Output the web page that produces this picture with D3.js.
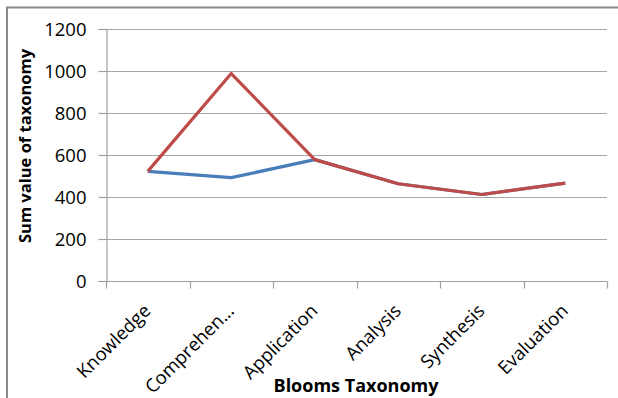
<!DOCTYPE html>
<html>
<head>
<meta charset="utf-8">
<script src="https://cdn.jsdelivr.net/npm/d3@7/dist/d3.min.js"></script>
<style>
  html, body { margin: 0; padding: 0; background: #fff; }
  svg { display: block; }
  text { font-family: "Open Sans", "Noto Sans", sans-serif; fill: #000; }
</style>
</head>
<body>
<svg id="chart" width="618" height="398"></svg>
<script>
// Bloom's taxonomy levels and the two summed series
const categories = ["Knowledge", "Comprehen...", "Application", "Analysis", "Synthesis", "Evaluation"];
const seriesBlue = [522, 492, 578, 463, 412, 466];
const seriesRed  = [522, 988, 578, 463, 412, 466];
const yTicks = [0, 200, 400, 600, 800, 1000, 1200];

const svg = d3.select("#chart");
const W = 618, H = 398;
const plot = { left: 106, right: 607, top: 29, bottom: 281 };
const labelSize = 18.5;

// Outer chart frame
svg.append("rect")
  .attr("x", 7).attr("y", 7.5)
  .attr("width", W + 10).attr("height", H + 10)
  .attr("fill", "none").attr("stroke", "#8a8a8a").attr("stroke-width", 2);

const x = d3.scaleBand().domain(categories).range([plot.left, plot.right]).padding(0);
const y = d3.scaleLinear().domain([0, 1200]).range([plot.bottom, plot.top]);

// Horizontal gridlines
svg.append("g")
  .selectAll("line")
  .data(yTicks.filter(d => d > 0))
  .join("line")
  .attr("x1", plot.left).attr("x2", plot.right)
  .attr("y1", d => Math.round(y(d)) + 0.5).attr("y2", d => Math.round(y(d)) + 0.5)
  .attr("stroke", "#a6a6a6").attr("stroke-width", 1.2);

// Y axis
const yAxis = svg.append("g")
  .attr("transform", `translate(${plot.left + 0.5},0)`)
  .call(d3.axisLeft(y).tickValues(yTicks).tickSize(8).tickPadding(12).tickFormat(d3.format("d")));
yAxis.select(".domain").attr("stroke", "#a0a0a0").attr("stroke-width", 1.2);
yAxis.selectAll(".tick line").attr("stroke", "#a0a0a0").attr("stroke-width", 1.2);
yAxis.selectAll(".tick text")
  .attr("font-size", labelSize).attr("font-family", "Open Sans, sans-serif").attr("fill", "#000").attr("dy", "0.35em");

// X axis with ticks on category boundaries
const xAxisG = svg.append("g").attr("transform", `translate(0,${plot.bottom + 0.5})`);
xAxisG.append("line")
  .attr("x1", plot.left).attr("x2", plot.right)
  .attr("stroke", "#a0a0a0").attr("stroke-width", 1.2);
const boundaries = categories.map(c => x(c)).concat([plot.right]);
xAxisG.selectAll("line.tk")
  .data(boundaries)
  .join("line").attr("class", "tk")
  .attr("x1", d => Math.round(d) + 0.5).attr("x2", d => Math.round(d) + 0.5)
  .attr("y1", 0).attr("y2", 7)
  .attr("stroke", "#a0a0a0").attr("stroke-width", 1.2);

// Rotated category labels
svg.append("g")
  .selectAll("text")
  .data(categories)
  .join("text")
  .attr("transform", d => `translate(${x(d) + x.bandwidth() / 2 + 4},${plot.bottom + 31}) rotate(-45)`)
  .attr("text-anchor", "end")
  .attr("font-size", labelSize)
  .text(d => d);

// Series lines
const line = d3.line()
  .x((d, i) => x(categories[i]) + x.bandwidth() / 2)
  .y(d => y(d));

svg.append("path")
  .datum(seriesBlue)
  .attr("d", line)
  .attr("fill", "none").attr("stroke", "#4a7ebb").attr("stroke-width", 3.2)
  .attr("stroke-linejoin", "round");

svg.append("path")
  .datum(seriesRed)
  .attr("d", line)
  .attr("fill", "none").attr("stroke", "#be4b48").attr("stroke-width", 3.2)
  .attr("stroke-linejoin", "round");

// Axis titles
svg.append("text")
  .attr("transform", "translate(31,146) rotate(-90)")
  .attr("text-anchor", "middle")
  .attr("font-weight", "bold").attr("font-size", 16.5)
  .text("Sum value of taxonomy");

svg.append("text")
  .attr("x", 356).attr("y", 392)
  .attr("text-anchor", "middle")
  .attr("font-weight", "bold").attr("font-size", 18)
  .text("Blooms Taxonomy");
</script>
</body>
</html>
